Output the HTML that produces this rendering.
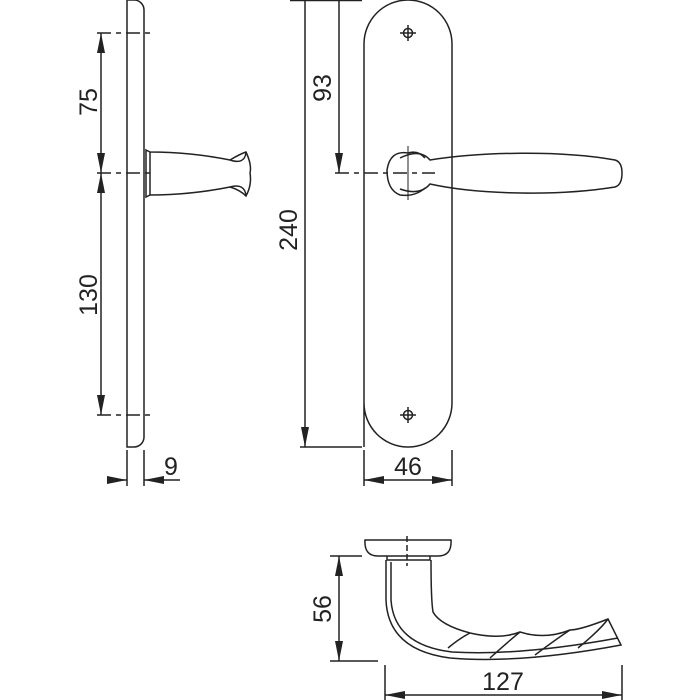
<!DOCTYPE html>
<html><head><style>html,body{margin:0;padding:0;background:#fff}svg{display:block}</style></head>
<body>
<svg width="700" height="700" viewBox="0 0 700 700" xmlns="http://www.w3.org/2000/svg" font-family="Liberation Sans, sans-serif" font-size="25" fill="none" stroke="#222" stroke-width="1.5">
<defs>
<marker id="a" viewBox="0 0 10 10" refX="10" refY="5" markerWidth="20" markerHeight="8" preserveAspectRatio="none" orient="auto-start-reverse" markerUnits="userSpaceOnUse"><path d="M0,0 L10,5 L0,10z" fill="#222" stroke="none"/></marker>
</defs>
<!-- side plate -->
<path d="M127,0 H134 A10,10 0 0 1 144,10 V437 A10,10 0 0 1 134,447 H127 Z"/>
<!-- side knob -->
<path d="M146,150 L150,152 C180,152 210,156 230,160 Q240,154 246,152 Q252,165 250,173 Q252,185 246,196 Q240,190 230,187 C210,191 180,195 150,195 L146,197 Z"/>
<path d="M150,152 V195"/>
<path d="M230,160 Q245,165 246,152 M230,187 Q245,183 246,196"/>
<!-- left dims -->
<path d="M101,33 V173" marker-start="url(#a)" marker-end="url(#a)"/>
<path d="M101,173 V415" marker-start="url(#a)" marker-end="url(#a)"/>
<path d="M97,33 H150 M97,173 H152 M97,415 H150" stroke-dasharray="14,5,5,5"/>
<text x="97" y="102" transform="rotate(-90 97 102)" text-anchor="middle" fill="#222" stroke="none">75</text>
<text x="97" y="295" transform="rotate(-90 97 295)" text-anchor="middle" fill="#222" stroke="none">130</text>
<!-- 9 dim -->
<path d="M127,450 V486 M144,450 V486"/>
<path d="M108,480 H127" marker-end="url(#a)"/>
<path d="M180,480 H144" marker-end="url(#a)"/>
<text x="171" y="475" text-anchor="middle" fill="#222" stroke="none">9</text>
<!-- front plate -->
<path d="M364,447 V44 A44,44 0 0 1 452,44 V403 A44,44 0 0 1 408,447 A44,44 0 0 1 364,403"/>
<g>
<circle cx="408" cy="33" r="4.5"/><path d="M400,33 H416 M408,25 V41"/>
<circle cx="408" cy="415" r="4.5"/><path d="M400,415 H416 M408,407 V423"/>
</g>
<!-- front lever -->
<path d="M408,153 Q390,150 387,170 Q387,190 400,195 Q415,197 425,188"/>
<path d="M400,158 Q420,148 430,160 C480,152 560,150 615,160 Q622,162 622,173 Q622,185 615,187 C560,196 480,195 430,184 Q420,196 400,189"/>
<path d="M408,153 Q418,150 425,158"/>
<path d="M408,146 V200" stroke-width="1"/>
<!-- 240 dim -->
<path d="M290,0.5 H362 M300,447 H362"/>
<path d="M305,0 V447" marker-end="url(#a)"/>
<text x="297" y="230" transform="rotate(-90 297 230)" text-anchor="middle" fill="#222" stroke="none">240</text>
<!-- 93 dim -->
<path d="M339,0 V173" marker-end="url(#a)"/>
<path d="M335,173 H435" stroke-dasharray="14,5,5,5"/>
<text x="331" y="88" transform="rotate(-90 331 88)" text-anchor="middle" fill="#222" stroke="none">93</text>
<!-- 46 dim -->
<path d="M364,450 V486 M452,450 V486"/>
<path d="M364,480 H452" marker-start="url(#a)" marker-end="url(#a)"/>
<text x="408" y="475" text-anchor="middle" fill="#222" stroke="none">46</text>
<!-- bottom view -->
<path d="M365,540 H451 Q452,556 438,556 H378 Q364,556 365,540 Z"/>
<path d="M387,556 V560 H430 V556"/>
<path d="M407,536 V566" stroke-dasharray="6,3"/>
<path d="M386,560 V600 Q388,650 450,658 Q520,664 621,645 L608,619 Q580,630 570,630 Q545,640 520,632 Q500,640 470,633 Q440,625 433,612 Q431,600 431,560"/>
<path d="M391,562 V600 Q394,645 452,652 Q520,656 618,638"/>
<path d="M448,648 Q460,638 470,633 M490,658 Q510,640 520,632 M535,655 Q555,640 570,630 M578,648 Q600,630 608,619"/>
<!-- 56 dim -->
<path d="M330,556 H362 M330,661 H378"/>
<path d="M339,556 V661" marker-start="url(#a)" marker-end="url(#a)"/>
<text x="331" y="609" transform="rotate(-90 331 609)" text-anchor="middle" fill="#222" stroke="none">56</text>
<!-- 127 dim -->
<path d="M385,665 V700 M622,665 V700"/>
<path d="M385,695 H622" marker-start="url(#a)" marker-end="url(#a)"/>
<text x="503" y="690" text-anchor="middle" fill="#222" stroke="none">127</text>
</svg>
</body></html>
